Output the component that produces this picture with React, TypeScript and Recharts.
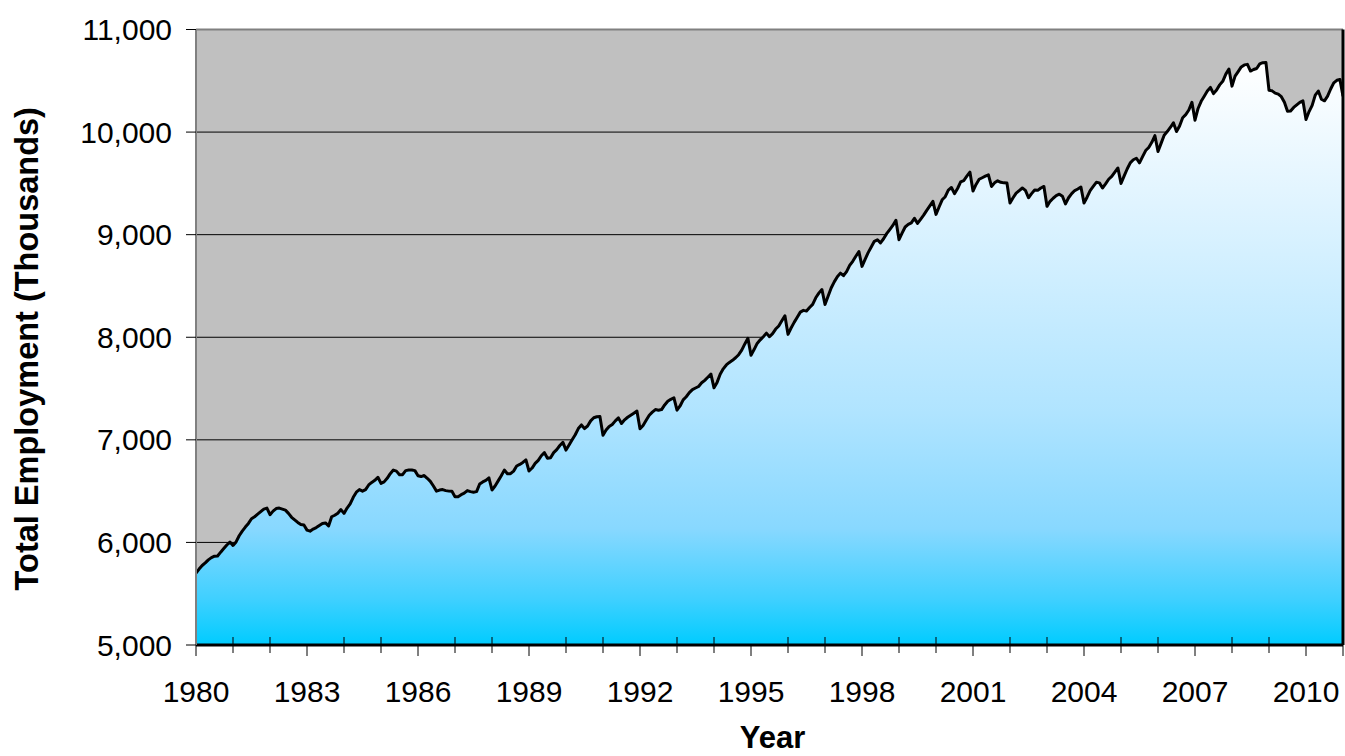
import React from "react";
import {
  AreaChart,
  Area,
  XAxis,
  YAxis,
  CartesianGrid,
  ReferenceLine,
} from "recharts";

// Monthly total employment (thousands), Jan 1980 .. Jan 2011
const employment1980s = [
  5700, 5740, 5775, 5800, 5830, 5852, 5866, 5868, 5905, 5940, 5975, 6003,
  5970, 6005, 6065, 6110, 6150, 6185, 6231, 6250, 6275, 6300, 6325, 6335,
  6270, 6305, 6330, 6335, 6325, 6315, 6283, 6245, 6220, 6195, 6175, 6170,
  6120, 6110, 6130, 6145, 6165, 6185, 6190, 6160, 6250, 6265, 6285, 6320,
  6283, 6335, 6375, 6440, 6490, 6515, 6500, 6515, 6560, 6585, 6605, 6635,
  6575, 6590, 6625, 6670, 6705, 6695, 6660, 6660, 6700, 6705, 6705, 6700,
  6650, 6642, 6652, 6625, 6595, 6550, 6500, 6510, 6515, 6505, 6500, 6498,
  6446, 6446, 6465, 6480, 6505, 6495, 6490, 6495, 6570, 6590, 6605, 6630,
  6511, 6550, 6600, 6650, 6705, 6670, 6670, 6695, 6745, 6760, 6780, 6805,
  6696, 6725, 6770, 6800, 6845, 6875, 6820, 6826, 6875, 6905, 6945, 6975,
];
const employment1990s = [
  6900, 6950, 7000, 7050, 7110, 7145, 7110, 7135, 7185, 7215, 7225, 7228,
  7045, 7095, 7130, 7150, 7185, 7214, 7160, 7195, 7220, 7240, 7260, 7280,
  7107, 7140, 7190, 7240, 7270, 7295, 7288, 7295, 7340, 7376, 7395, 7410,
  7289, 7330, 7390, 7420, 7460, 7490, 7505, 7520, 7556, 7580, 7610, 7640,
  7507, 7560, 7640, 7692, 7730, 7755, 7775, 7800, 7830, 7874, 7935, 7990,
  7825, 7880, 7940, 7975, 8005, 8040, 8005, 8035, 8080, 8110, 8160, 8210,
  8028, 8090, 8145, 8195, 8245, 8262, 8255, 8290, 8320, 8385, 8430, 8465,
  8320, 8400, 8480, 8540, 8590, 8625, 8600, 8640, 8700, 8740, 8790, 8835,
  8691, 8760, 8825, 8880, 8935, 8950, 8920, 8960, 9010, 9050, 9090, 9140,
  8951, 9015, 9075, 9100, 9115, 9160, 9110, 9150, 9190, 9237, 9280, 9325,
];
const employment2000s = [
  9198, 9270, 9340, 9370, 9435, 9460, 9400, 9450, 9515, 9528, 9570, 9610,
  9425, 9490, 9540, 9555, 9570, 9583, 9470, 9505, 9525, 9510, 9505, 9503,
  9308, 9360, 9405, 9430, 9455, 9432, 9360, 9400, 9435, 9432, 9455, 9470,
  9276, 9325, 9355, 9380, 9395, 9375, 9300, 9360, 9400, 9430, 9445, 9465,
  9308, 9365, 9430, 9470, 9510, 9505, 9455, 9495, 9540, 9568, 9610, 9650,
  9499, 9570, 9640, 9700, 9730, 9745, 9700, 9760, 9820, 9850, 9900, 9965,
  9810, 9890, 9970, 10005, 10045, 10090, 10005, 10060, 10140, 10170, 10215, 10290,
  10116, 10230, 10300, 10350, 10400, 10435, 10375, 10410, 10460, 10495, 10565, 10615,
  10448, 10545, 10590, 10635, 10655, 10660, 10595, 10610, 10620, 10665, 10677, 10679,
  10408, 10402, 10380, 10370, 10345, 10290, 10204, 10205, 10240, 10265, 10290, 10305,
];
const employment2010s = [
  10123, 10200, 10260, 10360, 10400, 10320, 10305, 10350, 10420, 10480, 10505, 10512,
  10350,
];

const startYear = 1980;
const endYear = 2011;
const yearTicks = Array.from({ length: endYear - startYear + 1 }, (_, i) => startYear + i);
const labeledYears = [1980, 1983, 1986, 1989, 1992, 1995, 1998, 2001, 2004, 2007, 2010];
const yTicks = [5000, 6000, 7000, 8000, 9000, 10000, 11000];
const gridValues = [6000, 7000, 8000, 9000, 10000];

const allValues = [
  ...employment1980s,
  ...employment1990s,
  ...employment2000s,
  ...employment2010s,
];
const data = allValues.map((v, i) => ({ t: startYear + i / 12, v }));

const FONT = '"Liberation Sans", Arial, Helvetica, sans-serif';

const XTick = (props: any) => {
  const { x, y, payload } = props;
  const yr = payload.value;
  const outward = labeledYears.includes(yr) || yr === endYear;
  return (
    <g>
      <line
        x1={x}
        x2={x}
        y1={outward ? y : y - 8}
        y2={outward ? y + 11 : y + 8}
        stroke="#000"
        strokeWidth={1}
      />
      {labeledYears.includes(yr) && (
        <text
          x={x}
          y={y + 57}
          textAnchor="middle"
          fontSize={30}
          fontFamily={FONT}
          fill="#000"
        >
          {yr}
        </text>
      )}
    </g>
  );
};

const fmt = (v: number) => v.toLocaleString("en-US");

export default function App() {
  return (
    <div style={{ width: 1345, height: 756, overflow: "hidden" }}>
      <style>{`html,body{margin:0;padding:0;overflow:hidden}`}</style>
      <AreaChart
        width={1345}
        height={756}
        data={data}
        margin={{ top: 29.5, right: 2, bottom: 51, left: 0 }}
      >
        <defs>
          <linearGradient id="empFill" x1="0" y1="0" x2="0" y2="1">
            <stop offset="0" stopColor="#FFFFFF" />
            <stop offset="0.24" stopColor="#E0F4FF" />
            <stop offset="0.6" stopColor="#B0E4FF" />
            <stop offset="0.8" stopColor="#88D8FF" />
            <stop offset="0.92" stopColor="#40D0FF" />
            <stop offset="1" stopColor="#00CCFF" />
          </linearGradient>
        </defs>
        <CartesianGrid
          vertical={false}
          horizontalValues={gridValues}
          stroke="#000"
          strokeWidth={1}
          fill="#C0C0C0"
          fillOpacity={1}
        />
        <XAxis
          dataKey="t"
          type="number"
          domain={[startYear, endYear]}
          allowDataOverflow
          ticks={yearTicks}
          interval={0}
          tick={<XTick />}
          tickLine={false}
          axisLine={false}
          tickSize={0}
          tickMargin={0}
          height={60}
          label={(p: any) => {
            const vb = p.viewBox || {};
            return (
              <text
                x={vb.x + vb.width / 2 + 3}
                y={vb.y + 103}
                textAnchor="middle"
                fontSize={31}
                fontWeight="bold"
                fontFamily={FONT}
                fill="#000"
              >
                Year
              </text>
            );
          }}
        />
        <YAxis
          type="number"
          domain={[5000, 11000]}
          allowDataOverflow
          ticks={yTicks}
          interval={0}
          width={196}
          tickFormatter={fmt}
          tickSize={10}
          tickMargin={14}
          tickLine={{ stroke: "#000", strokeWidth: 1 }}
          axisLine={{ stroke: "#808080", strokeWidth: 2 }}
          tick={{ fontSize: 30, fill: "#000", fontFamily: FONT }}
          label={(p: any) => {
            const vb = p.viewBox || {};
            const cx = 38;
            const cy = vb.y + vb.height / 2 + 11.5;
            return (
              <text
                x={cx}
                y={cy}
                transform={`rotate(-90, ${cx}, ${cy})`}
                textAnchor="middle"
                fontSize={32.5}
                fontWeight="bold"
                fontFamily={FONT}
                fill="#000"
              >
                Total Employment (Thousands)
              </text>
            );
          }}
        />
        <Area
          type="linear"
          dataKey="v"
          stroke="#000"
          strokeWidth={3}
          strokeLinejoin="round"
          fill="url(#empFill)"
          fillOpacity={1}
          isAnimationActive={false}
          dot={false}
          activeDot={false}
        />
        <ReferenceLine y={11000} stroke="#808080" strokeWidth={2} />
        <ReferenceLine y={5000} stroke="#000" strokeWidth={3} />
        <ReferenceLine x={endYear} stroke="#000" strokeWidth={3} />
      </AreaChart>
    </div>
  );
}
